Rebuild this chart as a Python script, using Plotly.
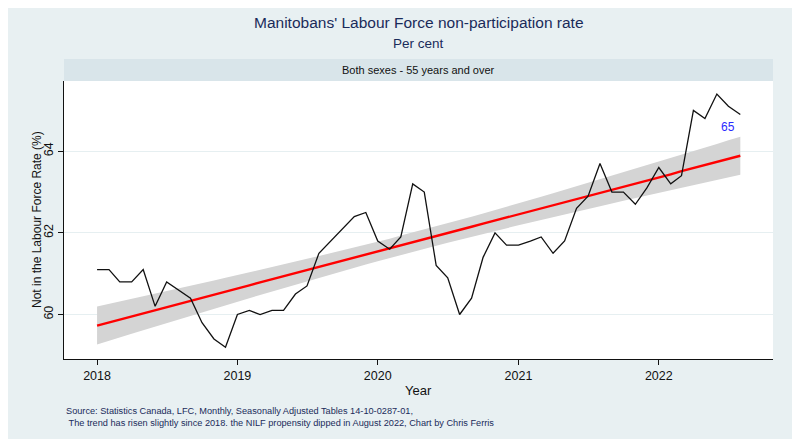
import numpy as np
import pandas as pd
import plotly.graph_objects as go

# Manitoba, both sexes 55+, not-in-labour-force rate, Jan 2018 - Aug 2022 (monthly)
start_month = "2018-01-01"
nilf_rate = [
    61.1, 61.1, 60.8, 60.8, 61.1, 60.2, 60.8, 60.6, 60.4, 59.8, 59.4, 59.2,  # 2018
    60.0, 60.1, 60.0, 60.1, 60.1, 60.5, 60.7, 61.5, 61.8, 62.1, 62.4, 62.5,  # 2019
    61.8, 61.6, 61.9, 63.2, 63.0, 61.2, 60.9, 60.0, 60.4, 61.4, 62.0, 61.7,  # 2020
    61.7, 61.8, 61.9, 61.5, 61.8, 62.6, 62.9, 63.7, 63.0, 63.0, 62.7, 63.1,  # 2021
    63.6, 63.2, 63.4, 65.0, 64.8, 65.4, 65.1, 64.9,                          # 2022
]
year_ticks = ["2018-01-01", "2019-01-01", "2020-01-01", "2021-01-01", "2022-01-01"]
year_labels = ["2018", "2019", "2020", "2021", "2022"]
y_ticks = [60, 62, 64]

months = pd.date_range(start_month, periods=len(nilf_rate), freq="MS")
y = np.array(nilf_rate)

# Linear trend with 95% CI of the fitted mean (like Stata lfitci)
t = np.arange(len(y), dtype=float)
n = len(y)
b1, b0 = np.polyfit(t, y, 1)
fit = b0 + b1 * t
resid = y - fit
s = np.sqrt(np.sum(resid ** 2) / (n - 2))
se = s * np.sqrt(1.0 / n + (t - t.mean()) ** 2 / np.sum((t - t.mean()) ** 2))
ci_hi = fit + 1.96 * se
ci_lo = fit - 1.96 * se

bg = "#e8f0f2"
navy = "#1a2b5a"
font_family = "Liberation Sans, Arial, sans-serif"

# the page body adds an 8px offset, so margins are shifted to compensate
plot_w, plot_h = 709, 278
top = 73


def py(px_from_top):
    # window pixel row -> paper y
    return (top + 8 + plot_h - px_from_top) / plot_h


fig = go.Figure()

fig.add_trace(go.Scatter(
    x=list(months) + list(months[::-1]),
    y=list(ci_hi) + list(ci_lo[::-1]),
    fill="toself", fillcolor="#d4d4d4", line=dict(width=0),
    hoverinfo="skip", showlegend=False,
))
fig.add_trace(go.Scatter(
    x=months, y=fit, mode="lines",
    line=dict(color="#ff0000", width=2.4), showlegend=False,
))
fig.add_trace(go.Scatter(
    x=months, y=y, mode="lines",
    line=dict(color="#111111", width=1.3), showlegend=False,
))

# label the latest value
fig.add_annotation(
    x=months[-1], y=y[-1], text=f"{y[-1]:.0f}", showarrow=False,
    xshift=-12, yshift=-13, font=dict(color="#2a2aff", size=12),
)

# header strip above the plot area
strip_h = 22 / plot_h
fig.add_shape(type="rect", xref="paper", yref="paper", x0=0, x1=1, y0=1, y1=1 + strip_h,
              fillcolor="#d9e5ea", line=dict(width=0), layer="below")
fig.add_annotation(xref="paper", yref="paper", x=0.5, y=1 + strip_h / 2, yanchor="middle",
                   text="Both sexes - 55 years and over", showarrow=False,
                   font=dict(size=11, color="#111111"))

fig.add_annotation(xref="paper", yref="paper", x=0.5, xanchor="center", y=py(22), yanchor="middle",
                   text="Manitobans' Labour Force non-participation rate", showarrow=False,
                   font=dict(size=15.5, color=navy))
fig.add_annotation(xref="paper", yref="paper", x=0.5, xanchor="center", y=py(44), yanchor="middle",
                   text="Per cent", showarrow=False, font=dict(size=13.5, color=navy))

# axis titles
fig.add_annotation(xref="paper", yref="paper", x=0.5, xanchor="center", y=py(390), yanchor="middle",
                   text="Year", showarrow=False, font=dict(size=13))
fig.add_annotation(xref="paper", yref="paper", x=-27 / plot_w, xanchor="center", y=0.5, yanchor="middle",
                   text="Not in the Labour Force Rate (%)", textangle=-90, showarrow=False,
                   font=dict(size=12))

fig.add_annotation(xref="paper", yref="paper", x=0, xanchor="left", y=py(404), yanchor="top",
                   align="left", showarrow=False,
                   text="Source: Statistics Canada, LFC, Monthly, Seasonally Adjusted Tables 14-10-0287-01,"
                        "<br>\u00a0The trend has risen slightly since 2018. the NILF propensity dipped in August 2022, Chart by Chris Ferris",
                   font=dict(size=9.2, color=navy))

fig.update_layout(
    width=800, height=439,
    margin=dict(l=56, r=35, t=top, b=439 - top - plot_h),
    paper_bgcolor=bg, plot_bgcolor="white",
    font=dict(family=font_family, color="#111111"),
    xaxis=dict(
        range=["2017-10-07", "2022-10-25"], automargin=False,
        tickmode="array", tickvals=year_ticks, ticktext=year_labels,
        ticks="outside", ticklen=5, tickcolor="#111111", showgrid=False,
        showline=True, linecolor="#111111", linewidth=1.2,
        tickfont=dict(size=12.5), zeroline=False,
    ),
    yaxis=dict(
        range=[58.91, 65.72], automargin=False,
        tickmode="array", tickvals=y_ticks, tickangle=-90,
        ticks="outside", ticklen=5, tickcolor="#111111",
        showgrid=True, gridcolor="#e6eff1", gridwidth=1,
        showline=True, linecolor="#111111", linewidth=1.2,
        tickfont=dict(size=12.5), zeroline=False,
    ),
)

fig.write_html("out.html")
